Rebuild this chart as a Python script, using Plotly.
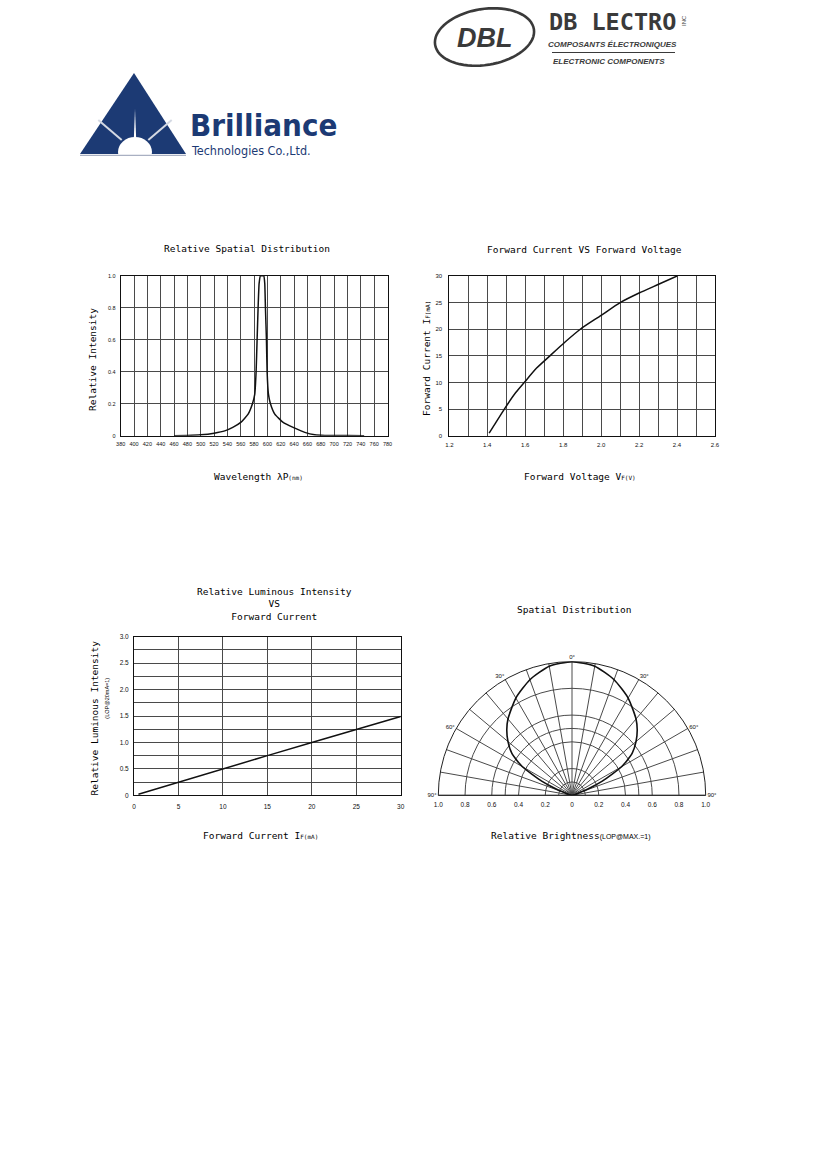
import numpy as np
import plotly.graph_objects as go

# page size (the datasheet is drawn as one figure)
W, H = 826, 1169

# ---- chart 1 : relative spectral distribution ----
wavelength_nm = [460, 480, 500, 520, 536, 548, 560, 571, 577.5, 581, 583, 584.5, 586, 587.5,
                 589.5, 592, 594.5, 596, 597, 598.5, 599.5, 601.5, 604.5, 611, 623.5, 638.5,
                 656, 671, 686, 700, 720, 745]
rel_intensity = [0.0, 0.002, 0.006, 0.016, 0.03, 0.052, 0.083, 0.135, 0.2, 0.26, 0.4, 0.6, 0.8, 0.95,
                 1.0, 1.0, 1.0, 0.95, 0.8, 0.6, 0.4, 0.26, 0.2, 0.135, 0.083, 0.052,
                 0.021, 0.006, 0.002, 0.001, 0.0005, 0.0]
spec_y_ticks = [0, 0.2, 0.4, 0.6, 0.8, 1.0]
spec_y_text = ["0", "0.2", "0.4", "0.6", "0.8", "1.0"]

# ---- chart 2 : forward current vs forward voltage ----
forward_voltage = [1.41, 1.43, 1.49, 1.55, 1.595, 1.66, 1.73, 1.81, 1.89, 2.0, 2.1, 2.2, 2.3, 2.4]
forward_current = [0.5, 1.6, 5.0, 8.1, 10.0, 12.7, 15.0, 17.6, 20.0, 22.6, 25.0, 26.8, 28.4, 30.0]

# ---- chart 3 : relative luminous intensity vs forward current ----
drive_current = [0.5, 5, 10, 15, 20, 25, 30]
rel_luminous = [0.02, 0.25, 0.5, 0.75, 1.0, 1.24, 1.49]
lum_y_ticks = [0, 0.5, 1.0, 1.5, 2.0, 2.5, 3.0]
lum_y_text = ["0", "0.5", "1.0", "1.5", "2.0", "2.5", "3.0"]

# ---- chart 4 : spatial distribution (polar) ----
view_angle = [-72, -70, -68, -65, -60, -55, -50, -45, -40, -30, -20, -10, 0,
              10, 20, 30, 40, 45, 50, 55, 60, 65, 68, 70, 72]
brightness = [0.0, 0.07, 0.14, 0.25, 0.43, 0.55, 0.625, 0.69, 0.745, 0.84, 0.92, 0.98, 1.0,
              0.98, 0.92, 0.84, 0.745, 0.69, 0.625, 0.55, 0.43, 0.25, 0.14, 0.07, 0.0]
ring_values = [0.1, 0.2, 0.4, 0.5, 0.6, 0.8, 1.0]
spoke_angles = [-90, -80, -70, -60, -50, -40, -30, -20, -10, 0, 10, 20, 30, 40, 50, 60, 70, 80, 90]
spoke_labels = ["90°", "", "", "60°", "", "", "30°", "", "", "0°", "", "", "30°", "", "", "60°", "", "", "90°"]
bright_ticks = [-1.0, -0.8, -0.6, -0.4, -0.2, 0, 0.2, 0.4, 0.6, 0.8, 1.0]
bright_text = ["1.0", "0.8", "0.6", "0.4", "0.2", "0", "0.2", "0.4", "0.6", "0.8", "1.0"]

MONO = "DejaVu Sans Mono"
NARROW = "Liberation Sans Narrow, Liberation Sans, Arial"
INK = "#111111"
GRID = "#4a4a4a"


def px(x):
    return x / W


def py(y):
    return 1 - y / H


def frame_axis(size=6, **kw):
    # boxed axis with full grid, no tick marks
    base = dict(showline=True, linecolor=INK, linewidth=1, mirror=True, ticks="",
                showgrid=True, gridcolor=GRID, gridwidth=0.8, zeroline=False, automargin=False,
                tickfont=dict(family=NARROW, size=size, color=INK), ticklabelstandoff=3)
    base.update(kw)
    return base


fig = go.Figure()

fig.add_trace(go.Scatter(x=wavelength_nm, y=rel_intensity, mode="lines",
                         line=dict(color=INK, width=1.5, shape="spline", smoothing=0.4),
                         xaxis="x", yaxis="y"))
fig.add_trace(go.Scatter(x=forward_voltage, y=forward_current, mode="lines",
                         line=dict(color=INK, width=1.5, shape="spline", smoothing=0.6),
                         xaxis="x2", yaxis="y2"))
fig.add_trace(go.Scatter(x=drive_current, y=rel_luminous, mode="lines",
                         line=dict(color=INK, width=1.5),
                         xaxis="x3", yaxis="y3"))
fig.add_trace(go.Scatterpolar(theta=view_angle, r=brightness, mode="lines",
                              line=dict(color=INK, width=1.6, shape="spline", smoothing=0.6),
                              subplot="polar"))
# empty trace only to hold the brightness scale under the polar plot
fig.add_trace(go.Scatter(x=[], y=[], xaxis="x4", yaxis="y4"))

fig.update_layout(
    width=W, height=H, margin=dict(l=0, r=0, t=0, b=0, autoexpand=False),
    paper_bgcolor="white", plot_bgcolor="rgba(0,0,0,0)", showlegend=False,
    xaxis=frame_axis(size=5.5, domain=[px(120.7), px(387.5)], range=[380, 780],
                     tick0=380, dtick=20, anchor="y"),
    yaxis=frame_axis(size=5.5, domain=[py(435.7), py(275.7)], range=[0, 1.0],
                     tickmode="array", tickvals=spec_y_ticks, ticktext=spec_y_text, anchor="x"),
    xaxis2=frame_axis(domain=[px(449.3), px(715)], range=[1.2, 2.6], tick0=1.2, dtick=0.2,
                      tickformat=".1f", anchor="y2",
                      minor=dict(tick0=1.2, dtick=0.1, showgrid=True, gridcolor=GRID,
                                 gridwidth=0.8, ticks="")),
    yaxis2=frame_axis(domain=[py(435.7), py(276)], range=[0, 30], tick0=0, dtick=5,
                      anchor="x2", ticklabelstandoff=5),
    xaxis3=frame_axis(size=6.5, domain=[px(134), px(400.7)], range=[0, 30], tick0=0,
                      dtick=5, anchor="y3", ticklabelstandoff=5),
    yaxis3=frame_axis(size=6.5, domain=[py(795.3), py(636.7)], range=[0, 3.0],
                      tickmode="array", tickvals=lum_y_ticks, ticktext=lum_y_text, anchor="x3",
                      minor=dict(tickmode="linear", tick0=0, dtick=0.25, showgrid=True,
                                 gridcolor=GRID, gridwidth=0.8, ticks="")),
    xaxis4=dict(domain=[px(438.3), px(705.7)], range=[-1, 1], anchor="y4", automargin=False,
                showline=False, showgrid=False, zeroline=False, ticks="",
                tickmode="array", tickvals=bright_ticks, ticktext=bright_text,
                tickfont=dict(family=NARROW, size=6.5, color=INK), ticklabelstandoff=4),
    yaxis4=dict(domain=[py(795.3), py(661.6)], range=[0, 1], anchor="x4", visible=False),
    polar=dict(
        domain=dict(x=[px(438.3), px(705.7)], y=[py(795.3), py(661.6)]),
        sector=[0, 180], bgcolor="white",
        angularaxis=dict(rotation=90, direction="clockwise", tickmode="array",
                         tickvals=spoke_angles, ticktext=spoke_labels, ticks="",
                         showgrid=True, gridcolor=GRID, gridwidth=0.8,
                         showline=True, linecolor="#222222", linewidth=1,
                         tickfont=dict(family=NARROW, size=6, color=INK)),
        radialaxis=dict(range=[0, 1], tickmode="array", tickvals=ring_values,
                        showticklabels=False, ticks="", showline=False,
                        showgrid=True, gridcolor=GRID, gridwidth=0.8),
    ),
)


def note(text, x, y, size, family, color, angle=0, xanchor="center", yanchor="middle"):
    fig.add_annotation(text=text, x=px(x), y=py(y), xref="paper", yref="paper",
                       xanchor=xanchor, yanchor=yanchor, showarrow=False, textangle=angle,
                       font=dict(family=family, size=size, color=color))


# ---- titles and axis titles ----
def label(text, x, y, size=9.5, angle=0, family=MONO):
    note(text, x, y, size, family, "#000000", angle=angle)


SMALL = "<span style='font-size:6px'>%s</span>"
label("Relative Spatial Distribution", 247, 248)
label("Relative Intensity", 92, 360, angle=-90)
label("Wavelength λP" + SMALL % "(nm)", 258, 477)

label("Forward Current VS Forward Voltage", 584, 249)
label("Forward Current I" + SMALL % "F(mA)", 427, 358, angle=-90)
label("Forward Voltage V" + SMALL % "F(V)", 580, 476)

label("Relative Luminous Intensity<br>VS<br>Forward Current", 274, 604)
label("Relative Luminous Intensity", 93.5, 718, angle=-90)
label("(LOP@20mA=1)", 106.7, 698, size=5.5, angle=-90, family=NARROW)
label("Forward Current I" + SMALL % "F(mA)", 260, 835)

label("Spatial Distribution", 574, 609)
label("Relative Brightness<span style='font-family:Liberation Sans, Arial;font-size:7px'>"
      "(LOP@MAX.=1)</span>", 571, 835)

# ---- Brilliance logo ----
NAVY = "#1c3a74"
fig.add_shape(type="path", xref="paper", yref="paper", line_width=0, fillcolor=NAVY,
              path=f"M {px(80)},{py(154)} L {px(134)},{py(73)} L {px(186)},{py(154)} Z")
fig.add_shape(type="path", xref="paper", yref="paper", line_width=0, fillcolor="white",
              path=f"M {px(133.3)},{py(152)} L {px(135)},{py(109)} L {px(136.7)},{py(152)} Z")
fig.add_shape(type="circle", xref="paper", yref="paper", line_width=0, fillcolor="white",
              x0=px(118), x1=px(152), y0=py(167), y1=py(137))
for x0, y0, x1, y1 in [(98.3, 120, 121.7, 140), (171.7, 120, 148.3, 140)]:
    fig.add_shape(type="line", xref="paper", yref="paper", x0=px(x0), y0=py(y0),
                  x1=px(x1), y1=py(y1), line=dict(color="#d4d9e3", width=2))
fig.add_shape(type="rect", xref="paper", yref="paper", line_width=0, fillcolor="white",
              x0=px(110), x1=px(160), y0=py(168), y1=py(154.5))
fig.add_shape(type="line", xref="paper", yref="paper", x0=px(80), x1=px(186),
              y0=py(155.3), y1=py(155.3), line=dict(color="#a9b0c2", width=1.2))
LOGO_FONT = "DejaVu Sans Condensed, DejaVu Sans"
note("<b>Brilliance</b>", 188, 125, 31, LOGO_FONT, NAVY, xanchor="left")
note("Technologies Co.,Ltd.", 189, 150, 12.5, LOGO_FONT, NAVY, xanchor="left")

# ---- DB LECTRO logo ----
GREY = "#3a3a3a"
t = np.linspace(0, 2 * np.pi, 73)
rot = np.deg2rad(-9)
ex = 484.5 + 50 * np.cos(t) * np.cos(rot) - 28 * np.sin(t) * np.sin(rot)
ey = 37 + 50 * np.cos(t) * np.sin(rot) + 28 * np.sin(t) * np.cos(rot)
ell = "M " + " L ".join(f"{px(a)},{py(b)}" for a, b in zip(ex, ey)) + " Z"
fig.add_shape(type="path", xref="paper", yref="paper", path=ell,
              line=dict(color=GREY, width=2.6))
note("<b><i>DBL</i></b>", 485, 38, 27, NARROW, GREY)
note("<b>DB LECTRO</b>", 612.5, 22, 23.5, MONO, GREY)
note("INC", 684, 21, 6, NARROW, GREY, angle=-90)
note("<b><i>COMPOSANTS ÉLECTRONIQUES</i></b>", 612, 44.5, 8, NARROW, GREY)
fig.add_shape(type="line", xref="paper", yref="paper", x0=px(552), x1=px(675),
              y0=py(52.5), y1=py(52.5), line=dict(color=GREY, width=1))
note("<b><i>ELECTRONIC COMPONENTS</i></b>", 609, 61, 8, NARROW, GREY)

# drop the default page margin so the figure sits at the window origin
fig.write_html("out.html", config={"displayModeBar": False},
               post_script="document.body.style.margin='0px';")
